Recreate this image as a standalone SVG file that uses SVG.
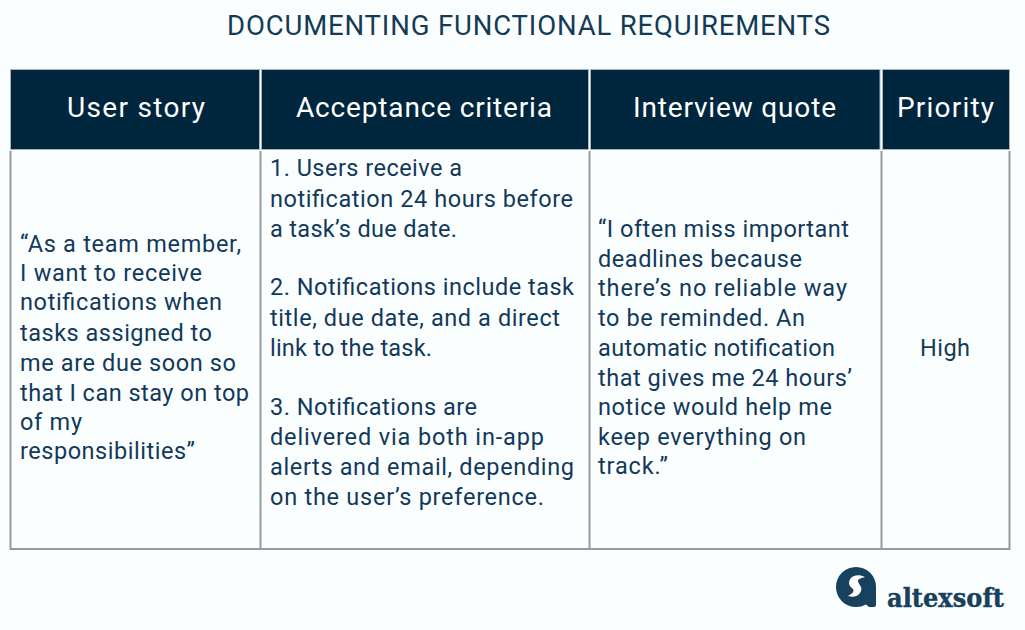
<svg xmlns="http://www.w3.org/2000/svg" width="1025" height="630" viewBox="0 0 1025 630">
<style>
text{font-family:"Roboto","Inter",sans-serif;fill:#12395a}
.t{font-size:23.500px;fill:#143b55}
.h{font-size:28px;fill:#fff}
.hd{fill:#00263e;stroke:#a9b3b9;stroke-width:1}
.ln{stroke:#98999a;stroke-width:2;fill:none}
</style>
<rect width="1025" height="630" fill="#fbfeff"/>
<text x="227" y="35" font-size="27.500" textLength="603" style="fill:#143b55">DOCUMENTING FUNCTIONAL REQUIREMENTS</text>
<g id="table">
<rect class="hd" x="10.500" y="69.500" width="249" height="80"/>
<rect class="hd" x="261.500" y="69.500" width="327" height="80"/>
<rect class="hd" x="590.500" y="69.500" width="289.500" height="80"/>
<rect class="hd" x="882.500" y="69.500" width="127" height="80"/>
<path class="ln" d="M10.500 151V549H1009.500V151M260.500 151V549M589.500 151V549M881.500 151V549"/>
</g>
<g id="headers">
<text class="h" x="67" y="117" textLength="138">User story</text>
<text class="h" x="296" y="117" textLength="256">Acceptance criteria</text>
<text class="h" x="633" y="117" textLength="203">Interview quote</text>
<text class="h" x="897" y="117" textLength="97">Priority</text>
</g>
<g id="story" class="t">
<text x="20" y="252" textLength="221">“As a team member,</text>
<text x="20" y="281" textLength="182">I want to receive</text>
<text x="20" y="310" textLength="202">notifications when</text>
<text x="20" y="341" textLength="192">tasks assigned to</text>
<text x="20" y="371" textLength="216">me are due soon so</text>
<text x="20" y="401" textLength="229">that I can stay on top</text>
<text x="20" y="430" textLength="62">of my</text>
<text x="20" y="459" textLength="175">responsibilities”</text>
</g>
<g id="criteria" class="t">
<text x="270" y="176" textLength="192">1. Users receive a</text>
<text x="270" y="207" textLength="303">notification 24 hours before</text>
<text x="270" y="237" textLength="187">a task’s due date.</text>
<text x="270" y="295" textLength="304">2. Notifications include task</text>
<text x="270" y="326" textLength="290">title, due date, and a direct</text>
<text x="270" y="356" textLength="162">link to the task.</text>
<text x="270" y="415" textLength="207">3. Notifications are</text>
<text x="270" y="445" textLength="274">delivered via both in-app</text>
<text x="270" y="475" textLength="304">alerts and email, depending</text>
<text x="270" y="505" textLength="274">on the user’s preference.</text>
</g>
<g id="quote" class="t">
<text x="598" y="237" textLength="251">“I often miss important</text>
<text x="598" y="267" textLength="204">deadlines because</text>
<text x="598" y="296" textLength="249">there’s no reliable way</text>
<text x="598" y="326" textLength="207">to be reminded. An</text>
<text x="598" y="356" textLength="237">automatic notification</text>
<text x="598" y="386" textLength="254">that gives me 24 hours’</text>
<text x="598" y="415" textLength="234">notice would help me</text>
<text x="598" y="445" textLength="208">keep everything on</text>
<text x="598" y="474" textLength="70">track.”</text>
</g>
<g id="priority"><text class="t" x="920" y="356" textLength="50">High</text></g>
<g id="logo">
<path d="M856 567a20 20 0 0 1 20 20V605q0 2-2 2H869l-3-2.500a20 20 0 0 1-10 2.500a20 20 0 0 1 0-40z" fill="#17415c"/>
<path d="M865 577c-4-2-8-2-11-1-3 1-5 4-5 7 0 3 3 5 4 6 1 2 0 4-2 5l-3 2c4 1 8 1 10-1 3-2 4-6 3-8-1-2-3-4-3-6 0-2 3-3 7-4z" fill="#fff"/>
<text x="887" y="607" font-size="26" font-weight="700" textLength="117" lengthAdjust="spacingAndGlyphs" style="font-family:'DejaVu Serif',serif;fill:#17415c;stroke:#17415c;stroke-width:.4">altexsoft</text>
</g>
</svg>
